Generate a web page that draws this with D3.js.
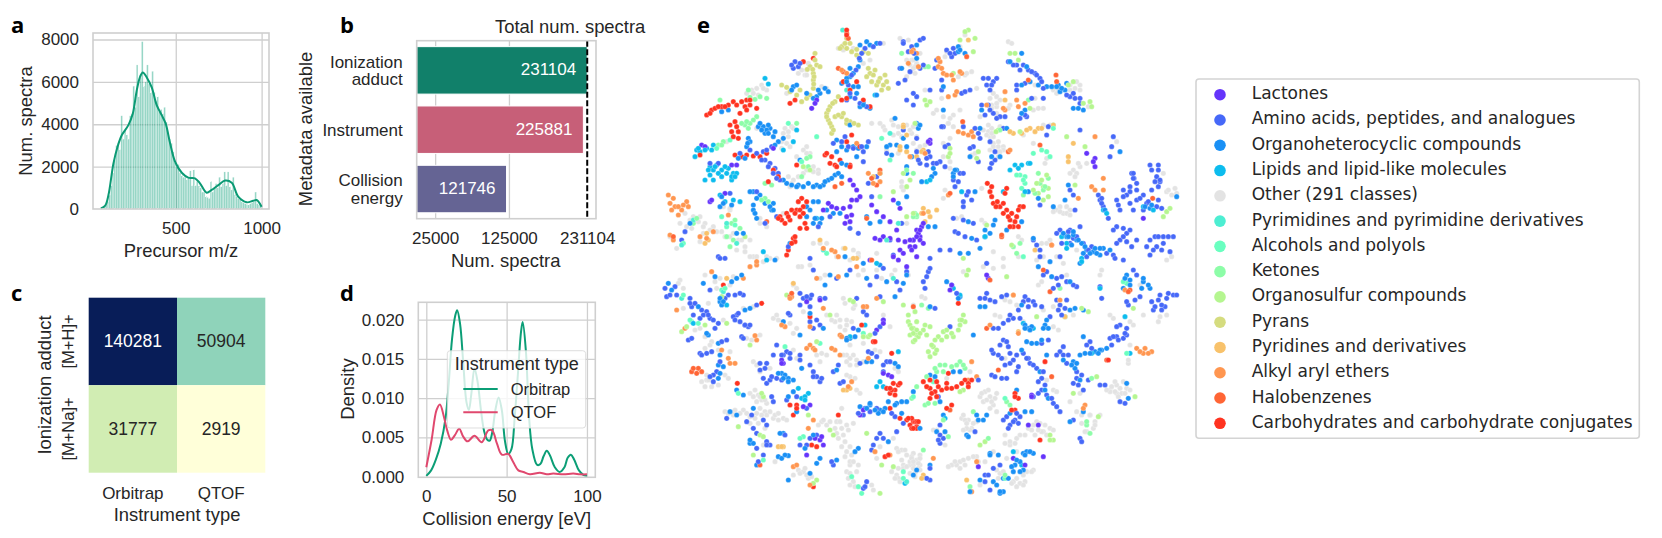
<!DOCTYPE html>
<html>
<head>
<meta charset="utf-8">
<script src="https://cdn.jsdelivr.net/npm/d3@7"></script>
<style>
  html, body { margin: 0; padding: 0; background: #fff; }
  svg { display: block; }
  text { font-family: "Liberation Sans", Arial, sans-serif; fill: #262626; }
  .panel-label { font-family: "Open Sans", sans-serif; font-weight: 700; font-size: 22px; fill: #000; }
  .grid line { stroke: #cfcfcf; stroke-width: 1.3; }
  .grid path { display: none; }
  .axis path { display: none; }
  .axis line { display: none; }
  .axis text { font-size: 17px; }
  .axis-title { font-size: 18.4px; }
  .frame { fill: none; stroke: #cfcfcf; stroke-width: 1.6; }
</style>
</head>
<body>
<svg id="chart" width="1662" height="538"></svg>
<script>
// panel a: precursor m/z histogram (bin start, count) and KDE
const histBinStart = [60,70,80,90,100,110,120,130,140,150,160,170,180,190,200,210,220,230,240,250,260,270,280,290,300,310,320,330,340,350,360,370,380,390,400,410,420,430,440,450,460,470,480,490,500,510,520,530,540,550,560,570,580,590,600,610,620,630,640,650,660,670,680,690,700,710,720,730,740,750,760,770,780,790,800,810,820,830,840,850,860,870,880,890,900,910,920,930,940,950,960,970,980,990];
const histCounts = [60,90,120,180,350,650,1100,1700,2300,3000,3100,2800,4400,3300,3700,3500,3300,4400,4500,5800,4800,6800,5300,6200,7900,5800,6000,6800,5900,5500,6500,5500,5100,5300,4600,4700,4500,4800,4100,3600,3300,3100,2700,2200,2000,2100,1700,1600,1500,1500,1400,1500,1800,1100,1850,1100,1300,1100,1000,800,800,600,550,500,1300,800,1000,1200,1000,1500,1050,1200,1750,1100,1750,1050,900,1500,700,600,500,450,350,300,250,220,200,250,300,350,800,250,200,150];
const kdeMz = [64,89,108,137,161,186,224,250,273,292,308,331,360,389,418,441,467,496,535,573,612,641,680,709,748,787,826,864,913,951,971,1000];
const kdeCounts = [30,157,660,2150,2940,3490,3960,4510,5610,6240,6445,6210,5740,4900,4430,4040,3100,2230,1710,1480,1450,1210,770,900,1130,1340,1240,580,315,390,425,110];

// panel b: metadata availability
const metaCategories = ["Ionization\nadduct", "Instrument", "Collision\nenergy"];
const metaCounts = [231104, 225881, 121746];
const metaColors = ["#11806a", "#c75f78", "#656494"];
const metaTicks = [25000, 125000, 231104];

// panel c: adduct / instrument counts
const heatInstruments = ["Orbitrap", "QTOF"];
const heatAdducts = ["[M+H]+", "[M+Na]+"];
const heatValues = [[140281, 50904], [31777, 2919]];

// panel d: collision energy density
const orbitrapEnergy = [0,3,6,9,12,14,16,18,19.2,21,23,25,26.5,28,30,32,34,36,38,39.5,41,43,45,47,49,51,53,55,57,59,60,62,64,66,69,71,73,75,77,80,83,86,88,90,92,95,98,100];
const orbitrapDensity = [.0001,.0008,.0022,.0042,.0075,.012,.0175,.0205,.0212,.0195,.0145,.0095,.0085,.0105,.0138,.012,.0085,.0058,.0047,.0046,.0056,.0085,.0101,.0085,.0045,.0029,.0035,.0075,.013,.0185,.0197,.016,.0075,.0035,.0015,.0016,.0026,.0033,.0027,.0012,.0006,.0012,.0024,.0028,.0022,.0008,.0002,.0001];
const qtofEnergy = [0,3.3,6.4,8.5,11,13,15.4,17.8,20.5,23,25.7,30,34.5,38.6,41,44,47,51,54,57.3,60.4,64.5,70.7,75,79,85.3,91.5,95.7,100];
const qtofDensity = [.0012,.0047,.0085,.0092,.0076,.0059,.0047,.0053,.0061,.0051,.0045,.0052,.0044,.0059,.0059,.0042,.0028,.0029,.0019,.0008,.0006,.0003,.0005,.0003,.0004,.0003,.0004,.0003,.0003];

// panel e: compound classes
const classNames = ["Lactones","Amino acids, peptides, and analogues","Organoheterocyclic compounds","Lipids and lipid-like molecules","Other (291 classes)","Pyrimidines and pyrimidine derivatives","Alcohols and polyols","Ketones","Organosulfur compounds","Pyrans","Pyridines and derivatives","Alkyl aryl ethers","Halobenzenes","Carbohydrates and carbohydrate conjugates"];
const classColors = ["#6534fb","#4668f8","#1a90f5","#0cbcee","#e3e3e3","#4deed2","#6affc0","#8dfda8","#b5f690","#d5dc7f","#f8c26b","#ff9650","#ff6535","#ff3320"];

// embedding readings, one row = [class, x,y, x,y, ...], grouped in four tiles
const tileOriginX = [0, 780, 0, 780];
const tileOriginY = [0, 0, 765, 765];
const tileNW = [
 [4, 565,115, 580,105, 700,100, 610,115, 660,150, 640,160, 445,190, 470,180, 465,195, 515,230, 530,235, 410,250, 335,225, 320,235, 305,240, 290,250, 350,240, 405,355, 425,350, 410,400, 395,395, 420,410, 470,410, 460,420, 480,430, 505,480, 490,470, 430,510, 420,530, 130,620, 150,620, 165,640, 190,650, 215,665, 240,680, 265,690, 285,710, 310,740, 340,755, 380,745, 240,600, 220,590, 330,640, 350,650, 80,715, 60,680, 455,770, 480,765, 510,700, 560,740, 600,750, 625,730, 680,730, 700,350, 725,330, 745,370, 770,345, 800,380, 755,515, 760,540, 770,640, 745,430, 710,420, 665,340],
 [9, 590,85, 600,100, 590,115, 575,110, 640,125, 655,130, 620,118, 660,190, 675,180, 690,205, 705,195, 680,225, 665,215, 700,225, 715,235, 650,200, 495,130, 500,165, 480,170, 490,190, 490,210, 490,235, 510,170, 395,225, 410,232, 420,245, 440,255, 455,275, 470,265, 480,255, 450,240, 565,260, 555,275, 540,290, 530,310, 535,330, 545,350, 545,370, 555,320, 575,320, 600,335, 625,345, 580,310, 590,340],
 [2, 630,105, 650,95, 680,100, 660,105, 610,190, 625,170, 630,150, 600,200, 430,230, 440,225, 500,260, 510,250, 490,265, 575,220, 590,205, 610,230, 620,250, 600,260, 640,280, 660,295, 630,290, 600,345, 215,305, 235,300, 325,350, 340,350, 360,355, 345,370, 370,380, 295,385, 290,410, 300,395, 400,385, 385,395, 560,390, 575,410, 560,425, 590,420, 610,410, 625,415, 650,410, 620,440, 410,520, 425,525, 445,525, 475,520, 500,525, 520,525, 535,510, 555,495, 400,510, 490,575, 505,575, 470,590, 470,620, 490,640, 510,640, 420,700, 530,600, 550,610, 570,610, 650,620, 660,640, 690,635, 310,545, 330,555, 345,580, 365,600, 370,580, 310,600, 320,625, 770,490, 800,340, 760,385, 720,405, 785,440, 770,470, 585,740, 640,760, 690,765, 450,450, 210,590, 245,585],
 [3, 345,205, 355,222, 430,395, 440,360, 170,415, 185,420, 140,420, 180,470, 200,465, 190,480, 180,495, 165,510, 190,510, 215,480, 235,475, 250,490, 245,510, 260,490, 210,555, 225,575, 340,725, 350,750, 500,625, 675,255, 150,425, 400,420, 680,760],
 [1, 435,155, 445,170, 430,175, 205,460, 345,450, 360,460, 375,475, 385,490, 390,510, 340,425, 365,410, 540,620, 590,270, 105,665, 95,690, 205,740, 225,745, 800,260, 770,270, 790,285, 785,110, 760,95, 775,125, 750,175, 780,185, 765,210, 745,220, 320,545, 380,620, 640,455, 655,520, 680,500, 505,650, 480,745, 240,550, 720,690, 730,735, 600,655, 625,670, 665,560, 755,640, 710,430],
 [0, 155,405, 165,410, 245,465, 500,270, 485,295, 590,620, 600,635, 585,640, 520,600, 535,580, 545,590, 560,595, 580,595, 600,590, 620,570, 630,560, 620,540, 610,525, 600,510, 665,585, 680,605, 700,620, 720,635, 740,660, 730,570, 750,595, 675,685, 700,680, 720,685, 745,690, 765,695, 790,690, 810,680, 750,720, 730,740, 760,730, 780,710, 745,750, 180,575, 225,550, 660,750, 605,615, 605,570, 690,690, 800,660],
 [7, 295,240, 330,260, 350,265, 285,345, 300,340, 320,320, 295,355, 205,405, 220,395, 440,340, 480,440, 475,470, 455,500, 345,520, 365,525, 345,565, 355,575, 245,640, 270,655, 250,690, 240,710, 210,270, 255,630, 130,640, 795,610, 800,620, 690,560],
 [6, 240,390, 415,340, 500,380, 215,620, 230,650, 720,450, 530,730, 100,700, 255,645, 690,490, 695,385],
 [5, 95,705, 230,640, 520,720, 590,240, 710,690, 130,630, 745,640],
 [8, 460,470, 480,480, 780,510, 770,530, 760,490, 730,545, 285,680, 770,620],
 [10, 760,345, 770,375, 750,420, 770,425, 620,745, 175,690, 165,700, 585,715, 610,745, 800,440, 670,500],
 [11, 70,565, 60,580, 75,590, 95,600, 85,615, 110,575, 115,590, 60,675, 70,690, 150,680, 170,685, 555,725, 620,770, 780,440, 620,400, 300,770, 320,765, 690,515, 235,615],
 [12, 590,70, 595,85, 565,175, 580,185, 555,530, 575,520, 650,625, 665,505, 680,525, 690,480, 70,680, 350,635, 665,750],
 [13, 490,145, 460,155, 435,270, 420,280, 580,215, 600,240, 590,265, 640,270, 660,290, 620,215, 575,270, 170,315, 185,300, 195,295, 215,290, 235,285, 250,275, 290,270, 285,290, 300,285, 320,295, 270,310, 255,335, 240,345, 245,365, 265,365, 250,380, 265,385, 260,350, 255,435, 275,440, 290,435, 310,438, 330,440, 350,430, 440,465, 355,515, 455,565, 470,575, 440,600, 425,600, 410,610, 390,620, 395,630, 420,630, 450,620, 465,640, 450,655, 430,685, 415,720, 410,735, 435,695, 605,375, 590,395, 630,410, 525,435, 545,440, 555,465, 570,450, 600,465, 150,435, 385,500, 370,480]
];
const tileNE = [
 [4, 5,150, 20,160, 15,190, 165,75, 110,125, 185,185, 165,195, 295,95, 430,240, 445,240, 495,235, 510,225, 200,235, 260,260, 260,290, 210,320, 400,295, 375,265, 45,240, 95,265, 70,310, 130,315, 115,340, 235,365, 245,355, 420,345, 5,370, 45,405, 185,435, 265,410, 405,460, 105,540, 155,620, 225,640, 325,680, 395,700, 420,690, 490,480, 510,470, 620,395, 770,545, 800,550, 240,380, 250,400, 280,410, 265,440, 120,385, 100,400, 120,455, 500,490, 470,590, 440,600, 460,610, 370,400, 410,445, 325,740, 440,740, 460,760, 280,745, 250,725, 760,490, 530,460, 115,340, 130,350, 240,300, 260,310, 240,265, 400,345, 220,360, 100,320, 150,300, 280,770],
 [1, 30,90, 40,85, 30,175, 130,115, 135,130, 110,120, 80,150, 75,175, 95,240, 295,155, 320,165, 340,165, 355,180, 375,190, 390,205, 320,225, 345,220, 480,260, 495,265, 510,280, 220,205, 230,225, 250,215, 260,205, 240,240, 215,285, 235,285, 225,315, 250,310, 270,320, 285,320, 330,325, 350,320, 400,265, 60,240, 180,240, 155,250, 100,350, 160,350, 210,385, 280,355, 410,375, 60,440, 50,465, 30,460, 90,455, 115,405, 150,490, 130,510, 135,530, 190,410, 205,455, 245,460, 240,475, 130,625, 160,630, 190,640, 135,665, 165,680, 200,690, 370,690, 450,660, 480,660, 510,650, 570,570, 580,590, 595,625, 510,360, 610,380, 605,410, 600,440, 640,540, 665,490, 680,520, 720,465, 745,465, 740,500, 745,530, 650,555, 680,570, 710,580, 740,590, 620,570, 630,600, 620,650, 650,670, 630,690, 665,710, 720,690, 760,680, 790,680, 740,710, 720,735, 90,720, 60,745, 660,530, 700,555, 672,505, 750,515, 725,540, 700,600, 670,600, 640,655, 680,690, 610,735, 640,750, 760,700, 780,725, 490,685, 520,700, 545,710, 185,570, 160,590, 170,555, 120,720, 230,760, 20,425, 70,460, 390,740, 530,740, 480,700],
 [2, 145,110, 165,130, 335,130, 360,215, 385,225, 410,230, 445,225, 470,220, 450,245, 490,295, 520,300, 345,300, 210,355, 25,355, 75,490, 65,500, 130,490, 270,440, 355,545, 335,635, 290,660, 75,650, 225,680, 255,630, 470,680, 500,690, 530,720, 550,725, 720,595, 800,560, 630,425, 150,730, 175,730, 210,715, 510,760, 570,735, 140,480, 240,670, 580,715],
 [3, 50,515, 300,480, 315,465, 335,465, 355,460, 280,545, 580,600, 225,680, 455,680, 515,745, 470,700, 700,590, 730,600, 155,545],
 [0, 60,390, 35,650, 25,670, 10,690, 30,690, 15,710, 530,430, 555,445, 555,470, 700,625, 5,720, 60,400, 20,740, 40,700, 550,455],
 [8, 175,60, 150,90, 195,85, 325,150, 300,130, 190,125, 490,215, 540,275, 545,290, 360,295, 15,340, 265,360, 45,270, 50,285, 115,440, 205,425, 525,410, 470,380, 770,605, 760,620, 780,595, 160,745, 385,550, 400,570, 415,560, 400,530],
 [7, 355,270, 415,505, 390,520, 385,490, 400,540, 375,550, 310,710, 330,700, 20,615, 270,360, 45,170, 340,555, 320,730],
 [6, 330,495, 345,500, 345,520, 335,535, 395,420, 370,430, 410,425, 420,440, 430,345, 340,740],
 [10, 310,370, 335,370, 360,355, 385,355, 40,595, 60,620, 45,635, 40,420, 490,400, 475,440, 475,455, 375,720, 430,345],
 [11, 10,120, 90,155, 85,170, 100,190, 130,210, 155,190, 230,285, 285,300, 320,270, 345,280, 135,255, 145,365, 175,375, 185,365, 115,555, 545,530, 580,540, 580,505, 555,380],
 [12, 170,140, 355,210, 438,195, 158,335, 295,425, 390,405, 275,680, 728,565, 425,705],
 [13, 232,520, 240,545, 250,580, 270,590, 285,550, 290,600, 300,630, 320,620, 330,590, 310,650, 340,590, 262,575, 280,610, 315,635, 300,650, 325,650]
];
const tileSW = [
 [4, 90,45, 100,70, 165,30, 195,50, 240,60, 100,130, 150,190, 185,230, 310,125, 165,250, 240,260, 225,330, 290,220, 170,345, 165,365, 310,290, 360,310, 440,280, 500,270, 510,290, 370,160, 440,190, 530,150, 560,150, 430,60, 610,130, 590,180, 720,185, 590,270, 620,285, 690,260, 600,335, 630,385, 735,310, 315,375, 225,440, 345,440, 400,460, 280,435, 300,475, 340,540, 460,620, 475,640, 530,480, 575,430, 610,475, 590,560, 600,600, 610,650, 665,660, 680,580, 740,550, 770,570, 740,630, 445,5, 490,15, 525,30, 640,15, 735,15, 695,40, 350,450, 370,460, 330,430, 350,415, 250,450, 600,590, 590,620, 575,545, 560,505, 760,600, 800,590, 790,565, 760,610, 700,150, 580,100, 555,170, 530,270, 380,150, 600,240, 680,15, 775,30],
 [1, 75,65, 50,95, 60,90, 180,75, 255,90, 280,90, 120,100, 125,125, 155,135, 180,160, 150,160, 205,175, 260,150, 270,170, 295,185, 115,225, 150,265, 230,225, 185,260, 200,320, 190,350, 275,215, 350,295, 330,315, 380,340, 350,355, 380,240, 410,260, 370,270, 450,270, 490,320, 510,350, 420,150, 480,170, 510,180, 460,100, 480,100, 450,120, 510,100, 640,140, 700,165, 630,295, 655,260, 565,300, 550,320, 570,355, 710,290, 700,320, 735,455, 410,405, 370,410, 230,460, 340,465, 360,540, 450,540, 500,510, 550,600, 650,650, 690,505, 665,555, 490,15, 560,40, 660,60, 690,95, 740,50, 620,100, 130,150, 170,140, 285,180, 480,300, 500,335, 400,270, 420,280, 120,115, 360,345, 640,450, 660,440, 320,505, 350,530, 770,20, 700,10],
 [2, 55,55, 160,55, 260,40, 210,110, 285,135, 175,210, 205,235, 205,300, 205,340, 395,325, 415,340, 400,170, 600,220, 665,290, 260,375, 240,440, 430,380, 630,425, 660,420, 690,435, 740,415, 770,410, 310,430, 400,505, 300,535, 415,572, 385,575, 320,600, 415,645, 500,595, 625,550, 715,530, 790,630, 590,30, 525,60, 735,95, 770,30, 685,445, 715,410],
 [3, 230,120, 645,180, 680,365, 700,365, 690,350, 745,260, 475,385, 455,400, 465,395, 600,215, 765,655, 710,370, 445,370],
 [0, 400,295, 395,285, 480,420, 510,105, 680,195, 630,450, 715,330, 510,525, 495,520, 470,570, 700,165, 770,5],
 [8, 775,150, 790,190, 800,210, 790,230, 760,120, 775,170, 230,175, 165,180, 95,200, 300,240, 340,395, 335,385, 265,485, 330,510, 310,570, 550,510, 650,505, 695,600, 730,605, 690,685, 655,215, 600,105, 410,90, 475,450, 800,170, 500,645, 780,210],
 [6, 125,170, 120,165, 215,75, 405,245, 510,235, 460,515, 605,635, 635,685, 760,640, 640,205],
 [5, 95,100, 220,80, 730,40, 770,650],
 [10, 430,55, 385,545, 400,545, 590,375, 600,370],
 [11, 80,135, 105,190, 215,255, 235,280, 255,295, 320,225, 425,95, 405,185, 470,250, 490,250, 520,130, 570,210, 650,125, 555,255, 570,270, 605,350, 430,605, 475,490, 720,570, 280,40, 500,40],
 [12, 125,320, 145,310, 155,320, 140,325, 130,310, 420,95, 425,85, 330,600],
 [13, 335,115, 220,60, 480,155, 635,180, 670,230, 725,265, 730,355, 720,385, 745,360, 735,375, 710,370, 262,355, 420,420, 440,420, 430,450, 720,430, 750,460, 790,470, 800,485, 770,465, 485,540, 490,665, 565,450, 705,575]
];
const tileSE = [
 [4, 45,100, 10,120, 250,10, 385,60, 570,30, 745,170, 270,155, 300,110, 430,125, 445,195, 610,160, 670,180, 655,295, 600,375, 630,370, 640,350, 510,385, 430,375, 515,450, 550,490, 80,495, 225,380, 240,395, 220,410, 250,420, 155,460, 185,490, 370,480, 420,490, 345,510, 125,600, 175,580, 150,590, 140,600, 320,520, 300,540, 270,625, 330,655, 20,585, 15,625, 0,600, 110,340, 340,170, 320,120, 380,470, 400,500, 600,380, 620,385, 570,450, 540,450, 555,470, 530,500, 660,170, 200,470, 175,465, 180,495, 350,620, 370,615, 310,650, 250,560, 285,510, 480,410, 600,150, 700,150, 575,15, 30,600, 30,615],
 [1, 55,20, 45,70, 75,130, 400,30, 440,40, 500,65, 470,50, 575,100, 570,65, 670,15, 690,95, 655,120, 790,90, 770,100, 745,105, 730,135, 765,125, 755,120, 210,100, 240,105, 275,95, 230,85, 345,95, 370,110, 325,135, 355,125, 450,120, 465,130, 295,165, 265,190, 420,155, 120,185, 280,225, 295,245, 250,265, 275,280, 320,270, 300,295, 320,320, 245,330, 275,340, 340,265, 360,295, 380,310, 415,225, 450,260, 470,295, 540,230, 600,220, 640,220, 650,190, 630,180, 500,320, 490,355, 520,375, 570,360, 645,415, 395,340, 405,360, 370,395, 430,415, 450,440, 490,465, 510,520, 100,520, 280,465, 300,480, 330,455, 270,600, 225,630, 240,675, 60,645, 310,160, 300,265, 355,280, 460,270, 500,340, 650,210, 620,215, 440,105, 410,390, 315,465, 90,535],
 [2, 125,60, 150,95, 650,30, 640,70, 720,70, 210,125, 405,180, 495,130, 355,190, 190,210, 350,230, 380,235, 390,320, 410,270, 490,290, 525,265, 555,260, 575,255, 510,345, 415,400, 60,330, 150,320, 90,410, 10,380, 100,450, 80,500, 205,465, 230,450, 170,510, 365,440, 320,375, 340,565, 370,565, 315,600, 280,640, 270,685, 240,565, 60,600, 650,355],
 [3, 150,90, 130,70, 570,70, 645,155, 545,265, 340,175, 370,190, 105,460, 310,560, 335,600, 660,265],
 [0, 120,75, 235,40, 385,480, 310,580, 400,575, 205,605, 345,600, 365,390],
 [8, 170,30, 290,35, 160,150, 165,170, 145,195, 130,215, 110,215, 85,215, 70,245, 55,260, 40,195, 20,195, 10,205, 0,180, 60,185, 25,215, 75,265, 100,200, 150,165, 670,130, 535,140, 560,335, 675,395, 490,385, 565,455, 430,525, 420,510, 160,375, 210,540],
 [7, 55,130, 450,70, 45,420, 90,300, 150,290, 80,320, 190,440, 290,410, 530,480, 540,505, 100,465, 115,515, 180,665, 40,555, 5,400],
 [6, 650,55, 465,155, 650,265, 640,50, 70,350, 10,395, 285,400, 285,640],
 [10, 170,645, 40,630, 465,155, 325,200, 310,90],
 [11, 310,90, 680,250, 700,265, 725,260, 705,250, 200,335, 185,290, 200,590, 185,680, 70,580, 325,205, 525,420, 175,345],
 [12, 420,80, 230,190, 425,335, 265,315, 590,285, 660,75, 10,125, 120,435],
 [13, 145,115, 405,290, 115,325, 40,350, 60,370, 95,375, 125,370, 175,355, 60,400, 75,380, 85,365, 165,345, 185,345, 50,365, 110,355, 140,365, 15,470, 0,480, 20,490, 5,460, 315,385, 325,400, 315,435, 390,525, 595,285]
];

// second pass over the same tiles, following the branches
const branchNW = [
 [4, 455,180, 320,355, 230,395, 400,370, 415,365, 430,355, 415,380, 440,440, 470,430, 445,500, 460,490, 470,480, 490,485, 505,490, 240,595, 330,625, 150,695, 300,690, 350,740, 490,700, 530,700, 580,715, 610,720, 690,340, 705,360, 730,345, 800,420, 755,530, 750,85, 790,150, 770,200, 310,250, 325,255, 340,235, 120,630, 105,610, 625,740, 400,610],
 [9, 495,150, 488,178, 492,200, 491,222, 472,178, 548,280, 535,300, 530,320, 540,340, 550,360, 565,315, 590,330, 612,340, 570,115, 585,100, 605,125, 620,135, 655,175, 670,195, 685,215, 710,215, 695,240],
 [1, 690,100, 670,110, 645,115, 635,130, 628,145, 618,180, 605,195, 595,225, 600,250, 615,265, 630,280, 650,290, 425,165, 450,160, 550,400, 575,395, 585,380, 595,410, 610,415, 635,410, 655,395, 640,425, 335,450, 355,470, 370,490, 380,505, 270,430, 320,430, 350,420, 300,420, 180,460, 415,710, 210,745, 345,640, 760,100, 760,360, 790,250],
 [2, 425,240, 470,250, 505,240, 525,235, 535,245, 600,175, 680,255, 575,460, 590,465, 565,490, 575,500, 330,340, 350,360, 355,345, 375,365, 265,445, 285,445, 293,400, 375,405, 480,600, 495,625, 515,625, 120,640, 215,560, 220,580, 300,545, 320,565, 360,590, 370,600, 310,585, 315,610, 260,670, 280,670, 375,750, 770,560, 745,580, 735,325, 740,405, 710,410, 725,435, 770,410, 755,175],
 [3, 135,440, 145,415, 165,420, 190,405, 175,480, 195,470, 205,490, 225,470, 230,490, 215,500, 245,500, 255,500, 250,570, 270,575],
 [0, 495,280, 370,415, 260,465, 185,570],
 [7, 300,262, 315,268, 275,340, 290,335, 310,330, 215,405, 470,445, 335,570, 140,625, 230,680, 790,620, 755,130, 770,480, 790,490],
 [6, 200,415, 455,455],
 [5, 578,60, 260,700, 720,370],
 [10, 170,670, 510,690, 760,350, 750,410],
 [11, 575,180, 590,190, 65,600, 85,590, 100,585, 55,555, 190,665, 320,755, 520,715, 545,720, 565,740, 655,490, 670,520, 690,490, 800,130, 775,160],
 [13, 590,60, 590,75, 530,430, 540,460, 560,470, 600,470, 180,310, 205,290, 225,290, 260,285, 275,275, 290,300, 300,270, 445,575, 460,590, 450,600, 435,610, 415,620, 385,625, 405,640, 460,610, 470,655, 425,700, 435,680],
 [4, 160,650, 180,660, 200,665, 225,680, 250,670, 275,690, 260,720, 285,725, 300,740, 320,740, 360,745, 90,640, 110,650, 125,655, 145,635, 160,670, 425,520, 415,500, 395,415, 730,375, 745,350, 755,380, 780,360, 790,400, 470,195, 475,160, 580,120, 775,90, 770,150, 795,170],
 [2, 440,530, 460,530, 490,530, 510,530, 525,515, 545,505, 590,215, 625,230, 640,285, 335,360, 355,370]
];
const branchNE = [
 [4, 30,130, 0,185, 105,140, 150,110, 145,200, 170,190, 305,100, 375,225, 440,250, 480,240, 535,290, 500,215, 250,250, 270,270, 245,285, 300,285, 370,300, 385,295, 80,300, 120,325, 230,375, 250,380, 270,350, 340,375, 250,410, 265,425, 280,420, 195,430, 10,350, 30,410, 120,475, 100,565, 215,535, 100,440, 140,625, 215,630, 335,690, 410,700, 400,740, 380,750, 500,720, 785,740, 770,750, 450,590, 480,600, 470,610],
 [1, 12,130, 40,165, 125,140, 120,130, 95,210, 310,165, 330,180, 365,185, 380,195, 395,215, 320,240, 400,235, 490,250, 510,265, 470,255, 235,205, 245,225, 240,300, 260,325, 345,315, 365,265, 165,245, 95,350, 195,355, 205,370, 240,395, 415,350, 255,425, 255,450, 180,415, 20,385, 55,425, 50,445, 25,450, 80,460, 105,470, 145,515, 160,490, 105,410, 160,575, 175,545, 145,670, 380,705, 390,720, 450,740, 440,670, 475,665, 500,680, 535,720, 455,700, 565,555, 575,580, 575,565, 590,730, 615,745, 670,505, 680,540, 690,565, 660,545, 640,560, 625,585, 725,480, 735,515, 715,575, 745,570, 755,595, 660,580, 670,490, 745,480, 750,510, 610,660, 640,680, 650,695, 620,700, 660,660, 735,680, 745,680, 775,680, 730,720, 755,720, 710,710, 480,540, 490,555, 495,600, 390,585],
 [2, 20,105, 20,145, 145,125, 100,230, 300,155, 350,170, 335,225, 425,230, 465,240, 505,295, 215,300, 335,310, 100,300, 290,355, 30,345, 70,475, 35,515, 135,480, 130,500, 195,545, 175,635, 185,685, 225,660, 250,645, 55,650, 245,440, 180,440, 385,565, 370,685, 420,755, 385,770, 460,670, 490,675, 515,700, 560,730, 485,705, 520,730, 585,600, 570,715, 600,720, 705,590, 725,585, 430,590, 465,570, 475,525],
 [3, 60,510, 345,545, 360,460, 325,475, 590,610, 470,715, 515,755],
 [0, 55,395, 30,660, 20,680, 0,690, 40,640],
 [8, 165,65, 130,190, 315,130, 475,225, 520,280, 60,275, 258,365, 330,365, 120,415, 120,430, 200,445, 370,540, 395,510, 410,495, 380,520, 415,535, 10,610, 230,645, 305,705, 495,525],
 [7, 55,170, 405,530],
 [6, 320,495, 340,510, 430,355],
 [10, 175,90, 285,270, 300,365, 350,360, 375,365, 395,355, 35,425, 35,610, 55,605, 80,600],
 [11, 5,125, 25,170, 85,145, 95,175, 110,195, 125,195, 150,185, 280,295, 285,245, 325,290, 140,245, 115,260, 190,380, 160,370, 300,420, 45,430, 40,610, 425,705, 555,540, 505,565],
 [12, 440,215, 120,550, 275,675],
 [13, 245,530, 245,560, 258,590, 280,580, 290,535, 295,620, 305,610, 325,600],
 [4, 0,165, 10,175, 495,500, 480,490, 505,460, 450,605, 480,615, 430,605, 245,370, 265,395, 240,420, 260,280, 245,295, 295,295, 510,240, 480,225, 270,425, 795,535, 785,555, 775,540, 235,345],
 [2, 475,680, 490,665, 505,690, 525,710, 540,730, 555,715, 440,230, 455,235, 150,120]
];
const branchSW = [
 [4, 85,55, 210,40, 250,35, 200,70, 175,115, 220,165, 280,130, 135,195, 165,215, 180,240, 205,255, 175,345, 235,340, 305,225, 330,210, 320,300, 330,320, 430,255, 515,265, 385,165, 420,175, 430,205, 460,140, 440,70, 585,115, 615,120, 570,185, 640,235, 580,270, 600,280, 675,255, 590,330, 615,340, 620,375, 745,320, 300,385, 325,390, 335,405, 250,440, 290,445, 320,445, 375,450, 385,465, 325,475, 345,490, 375,590, 445,615, 470,630, 430,630, 515,470, 560,470, 590,480, 575,490, 585,530, 605,570, 625,600, 600,625, 670,675, 690,545, 730,520, 755,555, 785,575, 755,585, 770,605, 745,640, 810,570, 510,40, 625,30, 725,30],
 [1, 80,90, 45,70, 235,90, 225,100, 270,85, 135,115, 160,150, 175,150, 190,165, 195,190, 250,155, 265,145, 320,120, 285,180, 300,180, 255,165, 125,220, 155,270, 170,265, 215,230, 210,290, 190,330, 180,335, 280,220, 345,310, 330,295, 365,335, 340,340, 395,345, 395,270, 420,265, 450,285, 490,335, 515,340, 415,145, 500,165, 490,190, 450,85, 485,90, 470,95, 480,125, 525,100, 650,150, 610,190, 675,205, 690,185, 665,265, 680,275, 580,350, 700,300, 720,290, 645,430, 680,430, 725,445, 625,445, 760,475, 440,395, 470,430, 365,395, 305,450, 290,470, 350,480, 310,490, 405,510, 350,540, 320,550, 340,570, 325,590, 480,520, 470,540, 545,590, 640,670, 645,665, 680,520, 700,520, 670,540, 740,500, 600,15, 680,35, 750,75],
 [2, 65,75, 195,35, 275,30, 245,50, 215,120, 145,125, 300,130, 170,205, 210,270, 220,305, 210,325, 405,330, 430,345, 385,325, 455,310, 450,210, 520,190, 480,145, 590,220, 625,195, 650,290, 560,315, 735,295, 745,305, 705,430, 755,445, 415,395, 440,440, 280,390, 260,450, 390,505, 310,535, 395,580, 405,570, 480,625, 490,510, 465,550, 510,580, 615,560, 560,585, 800,615, 540,30, 650,40, 710,50, 760,55],
 [3, 130,175, 465,405],
 [0, 395,295, 470,110, 700,175, 700,325, 725,335, 640,435, 460,425, 515,515, 520,540],
 [8, 215,95, 110,185, 500,230, 540,150, 610,110, 640,215, 660,210, 340,515, 490,655, 540,495, 700,110],
 [6, 100,90, 225,70, 145,175, 265,385, 340,585, 450,520, 625,665, 760,620],
 [11, 185,20, 240,295, 315,212, 395,180, 480,240, 495,255, 480,185, 420,100, 640,125, 575,215, 545,250, 655,280, 595,365, 440,600, 480,660, 490,465, 675,560, 565,35, 680,100],
 [10, 230,40, 395,545, 580,375],
 [13, 675,230, 725,375, 735,390, 720,370, 750,355, 775,460, 800,470, 785,490, 440,430, 500,545, 715,570],
 [4, 235,445, 255,435, 270,445, 300,455, 315,460, 335,450, 360,440, 385,445, 410,465, 330,395, 345,405, 320,410, 310,395, 555,490, 570,470, 595,495, 565,520, 580,510, 600,545, 585,575, 610,590, 620,620, 595,640, 615,665, 600,660, 745,560, 765,555, 780,590, 745,610, 735,640, 750,650, 725,620, 790,600, 805,585, 465,610, 450,625, 485,635, 170,330, 155,350, 185,365, 205,360, 520,465, 505,480, 540,470, 545,165, 570,165, 590,165, 585,195, 605,170, 610,270, 600,300, 640,290, 620,300, 590,290],
 [2, 650,430, 675,435, 700,440, 660,415, 735,420, 755,410, 415,350, 400,340, 300,525, 590,225, 615,215, 210,100, 220,110]
];
const branchSE = [
 [4, 35,95, 220,5, 160,20, 470,30, 395,50, 690,60, 750,155, 770,150, 285,105, 400,135, 490,150, 255,150, 430,185, 285,280, 660,240, 655,285, 615,380, 620,360, 635,385, 625,395, 410,345, 440,380, 500,440, 540,450, 525,500, 70,495, 105,540, 180,320, 235,375, 255,400, 210,395, 165,465, 170,490, 240,430, 260,440, 355,490, 395,500, 410,510, 200,575, 290,580, 320,560, 305,655, 345,650, 265,640, 210,660, 30,580, 5,580, 25,610, 15,635],
 [1, 50,35, 60,10, 40,50, 140,85, 410,20, 455,35, 490,60, 430,70, 445,60, 680,30, 650,110, 675,105, 725,110, 750,90, 775,85, 755,135, 735,125, 800,90, 225,100, 255,110, 290,90, 340,110, 355,105, 375,120, 395,125, 445,135, 470,105, 455,150, 300,150, 280,175, 250,190, 330,160, 290,230, 270,240, 245,255, 265,270, 310,285, 325,305, 255,335, 290,340, 350,280, 370,300, 395,235, 285,300, 460,245, 440,270, 530,240, 545,250, 605,240, 625,225, 645,205, 620,185, 475,270, 610,215, 515,330, 505,360, 535,345, 585,360, 630,410, 400,320, 385,350, 395,375, 385,385, 425,400, 440,425, 205,345, 85,395, 90,480, 90,510, 85,525, 515,530, 195,500, 290,455, 310,470, 320,445, 295,490, 325,475, 250,610, 235,630, 225,650, 60,610, 50,640],
 [2, 110,50, 145,100, 60,125, 425,35, 480,50, 700,50, 660,45, 700,40, 225,125, 335,120, 410,165, 480,135, 520,135, 415,190, 345,180, 365,185, 335,255, 365,235, 395,225, 460,285, 510,270, 570,255, 590,250, 520,215, 495,310, 405,375, 655,400, 75,335, 130,320, 30,490, 105,500, 220,465, 200,450, 175,515, 300,445, 345,440, 240,570, 265,570, 350,560, 330,590, 310,620, 340,615, 295,640, 250,650, 210,645, 280,680, 180,680, 520,440, 480,470],
 [0, 125,60, 230,30, 365,395, 355,480],
 [8, 155,165, 150,180, 125,205, 95,225, 75,225, 65,240, 50,210, 30,205, 45,180, 15,225, 5,190, 110,195, 80,255, 60,275, 15,140, 175,15, 380,155, 515,130, 150,380, 420,525, 225,530],
 [7, 35,120, 545,340, 100,320, 140,300, 165,310, 75,415, 55,415, 300,420, 530,470, 20,365, 235,520, 285,630, 50,335, 75,310, 105,300, 125,305, 160,300],
 [11, 645,75, 450,105, 240,180, 690,260, 715,265, 520,430],
 [10, 35,640],
 [12, 400,15, 240,45, 655,80],
 [13, 60,345, 80,350, 110,370, 155,355, 175,365, 80,395, 65,385, 125,420, 110,430, 25,470, 10,490, 315,395, 305,435],
 [4, 115,605, 135,590, 160,585, 165,600, 190,575, 205,590, 225,590, 150,610, 10,590, 25,595, 10,610, 0,625, 160,450, 170,475, 190,475, 160,495, 215,385, 230,405, 245,410, 260,385, 365,495, 385,495, 405,480, 430,495, 375,510, 390,475, 605,365, 615,350, 650,370, 645,385, 660,375, 590,375, 320,640, 340,660, 320,665, 260,615, 280,620, 365,620, 340,630, 315,535, 330,510, 300,530, 285,535, 515,475, 555,480],
 [2, 345,570, 360,560, 320,585, 330,620, 305,605, 270,680, 260,660, 540,265, 565,265, 500,295, 485,300, 645,40, 660,60, 715,60, 695,70, 360,195, 345,190, 400,190]
];

const svg = d3.select("#chart");

function panelLabel(text, x, y) {
    svg.append("text").attr("class", "panel-label").attr("x", x).attr("y", y).text(text);
}

function axisTitle(text, x, y, rotate) {
    const t = svg.append("text").attr("class", "axis-title").attr("text-anchor", "middle").text(text);
    if (rotate) t.attr("transform", `translate(${x},${y}) rotate(-90)`);
    else t.attr("x", x).attr("y", y);
}

function gridAndFrame(x, y, xTicks, yTicks) {
    const [l, r] = x.range();
    const [b, t] = y.range();
    if (xTicks) {
        svg.append("g").attr("class", "grid").attr("transform", `translate(0,${b})`)
            .call(d3.axisBottom(x).tickValues(xTicks).tickSize(t - b).tickFormat(""));
    }
    if (yTicks) {
        svg.append("g").attr("class", "grid").attr("transform", `translate(${l},0)`)
            .call(d3.axisLeft(y).tickValues(yTicks).tickSize(l - r).tickFormat(""));
    }
}

function frame(x, y) {
    const [l, r] = x.range();
    const [b, t] = y.range();
    svg.append("rect").attr("class", "frame").attr("x", l).attr("y", t).attr("width", r - l).attr("height", b - t);
}

// ---- panel a ----
function drawHistogram() {
    const x = d3.scaleLinear().domain([18, 1043]).range([93, 269]);
    const y = d3.scaleLinear().domain([0, 8307]).range([209, 33]);
    gridAndFrame(x, y, [500, 1000], [2000, 4000, 6000, 8000]);

    svg.append("g").selectAll("rect").data(histCounts).enter().append("rect")
        .attr("x", (d, i) => x(histBinStart[i]))
        .attr("width", (d, i) => x(histBinStart[i] + 10) - x(histBinStart[i]))
        .attr("y", d => y(d))
        .attr("height", d => y(0) - y(d))
        .attr("fill", "#069e76")
        .attr("fill-opacity", 0.42)
        .attr("stroke", "#fff")
        .attr("stroke-width", 0.25);

    const line = d3.line().x(d => x(d[0])).y(d => y(d[1])).curve(d3.curveCatmullRom);
    svg.append("path").datum(d3.zip(kdeMz, kdeCounts))
        .attr("d", line).attr("fill", "none").attr("stroke", "#0b9a74").attr("stroke-width", 2);

    frame(x, y);
    svg.append("g").attr("class", "axis").attr("transform", "translate(0,209)")
        .call(d3.axisBottom(x).tickValues([500, 1000]).tickFormat(d3.format("d")).tickSize(0).tickPadding(13));
    svg.append("g").attr("class", "axis").attr("transform", "translate(93,0)")
        .call(d3.axisLeft(y).tickValues([0, 2000, 4000, 6000, 8000]).tickFormat(d3.format("d")).tickSize(0).tickPadding(14));
    axisTitle("Precursor m/z", 181, 257);
    axisTitle("Num. spectra", 32, 121, true);
    panelLabel("a", 11, 33);
}

// ---- panel b ----
function drawMetadata() {
    const x = d3.scaleLinear().domain([0, 243000]).range([416.7, 596]);
    const y = d3.scaleBand().domain(metaCategories).range([40.7, 218.7]).paddingInner(0.2).paddingOuter(0.1);
    const yRange = d3.scaleLinear().domain([0, 1]).range([218.7, 40.7]);
    gridAndFrame(x, yRange, [25000, 125000], null);

    svg.append("g").selectAll("rect").data(metaCategories).enter().append("rect")
        .attr("x", x(0))
        .attr("y", d => y(d))
        .attr("width", (d, i) => x(metaCounts[i]) - x(0))
        .attr("height", y.bandwidth())
        .attr("fill", (d, i) => metaColors[i])
        .attr("stroke", "#fff").attr("stroke-width", 1);

    svg.append("g").selectAll("text").data(metaCategories).enter().append("text")
        .attr("x", (d, i) => x(metaCounts[i]) - 11)
        .attr("y", d => y(d) + y.bandwidth() / 2 + 5)
        .attr("text-anchor", "end")
        .style("fill", "#fff")
        .style("font-size", "17px")
        .text((d, i) => metaCounts[i]);

    svg.append("line").attr("x1", x(231104)).attr("x2", x(231104)).attr("y1", 40.7).attr("y2", 218.7)
        .attr("stroke", "#000").attr("stroke-width", 2).attr("stroke-dasharray", "6,2.5");

    frame(x, yRange);
    svg.append("g").attr("class", "axis").attr("transform", "translate(0,218.7)")
        .call(d3.axisBottom(x).tickValues(metaTicks).tickFormat(d3.format("d")).tickSize(0).tickPadding(13.5));

    // two line category labels
    const labels = svg.append("g").attr("class", "axis");
    metaCategories.forEach(c => {
        const parts = c.split("\n");
        const mid = y(c) + y.bandwidth() / 2;
        parts.forEach((p, i) => {
            labels.append("text").attr("x", 402.7).attr("text-anchor", "end")
                .attr("y", mid + 6 + (i - (parts.length - 1) / 2) * 17.7)
                .text(p);
        });
    });

    axisTitle("Num. spectra", 505.7, 267);
    axisTitle("Metadata available", 312, 129, true);
    svg.append("text").attr("x", 495).attr("y", 33).style("font-size", "18.4px").text("Total num. spectra");
    panelLabel("b", 340, 33);
}

// ---- panel c ----
function drawHeatmap() {
    const x = d3.scaleBand().domain(heatInstruments).range([88.7, 265.3]);
    const y = d3.scaleBand().domain(heatAdducts).range([297.7, 472.7]);
    const color = d3.scaleSequential(d3.interpolateYlGnBu).domain([2919, 140281]);
    const cells = [];
    heatAdducts.forEach((a, r) => heatInstruments.forEach((ins, c) => cells.push({ a, ins, v: heatValues[r][c] })));

    svg.append("g").selectAll("rect").data(cells).enter().append("rect")
        .attr("x", d => x(d.ins)).attr("y", d => y(d.a))
        .attr("width", x.bandwidth()).attr("height", y.bandwidth())
        .attr("fill", d => color(d.v));

    svg.append("g").selectAll("text").data(cells).enter().append("text")
        .attr("x", d => x(d.ins) + x.bandwidth() / 2)
        .attr("y", d => y(d.a) + y.bandwidth() / 2 + 6)
        .attr("text-anchor", "middle")
        .style("font-size", "17.5px")
        .style("fill", d => d.v > 100000 ? "#fff" : "#262626")
        .text(d => d.v);

    svg.append("g").attr("class", "axis").attr("transform", "translate(0,472.7)")
        .call(d3.axisBottom(x).tickSize(0).tickPadding(14));
    svg.append("g").attr("class", "axis").selectAll("text").data(heatAdducts).enter().append("text")
        .attr("text-anchor", "middle")
        .attr("transform", d => `translate(74,${y(d) + y.bandwidth() / 2}) rotate(-90)`)
        .style("font-size", "16.5px")
        .text(d => d);
    axisTitle("Instrument type", 177, 521);
    axisTitle("Ionization adduct", 51, 385, true);
    panelLabel("c", 11, 301);
}

// ---- panel d ----
function drawDensity() {
    const x = d3.scaleLinear().domain([-4.98, 105.2]).range([418.3, 595.3]);
    const y = d3.scaleLinear().domain([-0.00008, 0.02222]).range([477.3, 302.3]);
    gridAndFrame(x, y, [0, 50, 100], [0.005, 0.01, 0.015, 0.02]);

    const line = d3.line().x(d => x(d[0])).y(d => y(d[1])).curve(d3.curveCatmullRom);
    svg.append("path").datum(d3.zip(orbitrapEnergy, orbitrapDensity))
        .attr("d", line).attr("fill", "none").attr("stroke", "#0b9e76").attr("stroke-width", 2);
    svg.append("path").datum(d3.zip(qtofEnergy, qtofDensity))
        .attr("d", line).attr("fill", "none").attr("stroke", "#e0486e").attr("stroke-width", 2);

    frame(x, y);
    svg.append("g").attr("class", "axis").attr("transform", "translate(0,477.3)")
        .call(d3.axisBottom(x).tickValues([0, 50, 100]).tickSize(0).tickPadding(13));
    svg.append("g").attr("class", "axis").attr("transform", "translate(418.3,0)")
        .call(d3.axisLeft(y).tickValues([0, 0.005, 0.01, 0.015, 0.02]).tickFormat(d3.format(".3f")).tickSize(0).tickPadding(14));
    axisTitle("Collision energy [eV]", 506.7, 525);
    axisTitle("Density", 354, 389, true);
    panelLabel("d", 340, 301);

    // legend sits on top of the lines, half see-through
    const lg = svg.append("g");
    lg.append("rect").attr("x", 447.3).attr("y", 350.7).attr("width", 138.4).attr("height", 77.3).attr("rx", 3)
        .attr("fill", "#fff").attr("fill-opacity", 0.8).attr("stroke", "#d6d6d6").attr("stroke-opacity", 0.8);
    lg.append("text").attr("x", 516.7).attr("y", 370).attr("text-anchor", "middle").style("font-size", "18px").text("Instrument type");
    [["Orbitrap", "#0b9e76", 389], ["QTOF", "#e0486e", 412.3]].forEach(s => {
        lg.append("line").attr("x1", 463.3).attr("x2", 497.7).attr("y1", s[2]).attr("y2", s[2]).attr("stroke", s[1]).attr("stroke-width", 2);
        lg.append("text").attr("x", 510.7).attr("y", s[2] + 6).style("font-size", "16.5px").text(s[0]);
    });
}

// ---- panel e ----
function drawEmbedding() {
    const x = d3.scaleLinear().domain([0, 1620]).range([650, 1190]);
    const y = d3.scaleLinear().domain([0, 1560]).range([10, 530]);
    const points = [];
    [tileNW, tileNE, tileSW, tileSE, branchNW, branchNE, branchSW, branchSE].forEach((tile, t) => {
        tile.forEach(row => {
            for (let i = 1; i < row.length; i += 2) {
                points.push({ k: row[0], x: row[i] + tileOriginX[t % 4], y: row[i + 1] + tileOriginY[t % 4] });
            }
        });
    });
    // grey class goes underneath the coloured ones
    points.sort((a, b) => (b.k === 4) - (a.k === 4));

    svg.append("g").selectAll("circle").data(points).enter().append("circle")
        .attr("cx", d => x(d.x))
        .attr("cy", d => y(d.y))
        .attr("r", 2.6)
        .attr("fill", d => classColors[d.k])
        .attr("stroke", "#fff")
        .attr("stroke-width", 0.25);

    panelLabel("e", 697, 33);

    const legendY = d3.scalePoint().domain(classNames).range([94.7, 423.3]);
    svg.append("rect").attr("x", 1196).attr("y", 79).attr("width", 443.3).attr("height", 359.3).attr("rx", 3)
        .attr("fill", "#fff").attr("stroke", "#d4d4d4").attr("stroke-width", 1.6);
    svg.append("g").selectAll("circle").data(classNames).enter().append("circle")
        .attr("cx", 1220).attr("cy", d => legendY(d)).attr("r", 5.8)
        .attr("fill", (d, i) => classColors[i]);
    svg.append("g").selectAll("text").data(classNames).enter().append("text")
        .attr("x", 1251.7).attr("y", d => legendY(d) + 4.5)
        .style("font-family", "'DejaVu Sans', sans-serif")
        .style("font-size", "17px")
        .text(d => d);
}

drawHistogram();
drawMetadata();
drawHeatmap();
drawDensity();
drawEmbedding();
</script>
</body>
</html>
